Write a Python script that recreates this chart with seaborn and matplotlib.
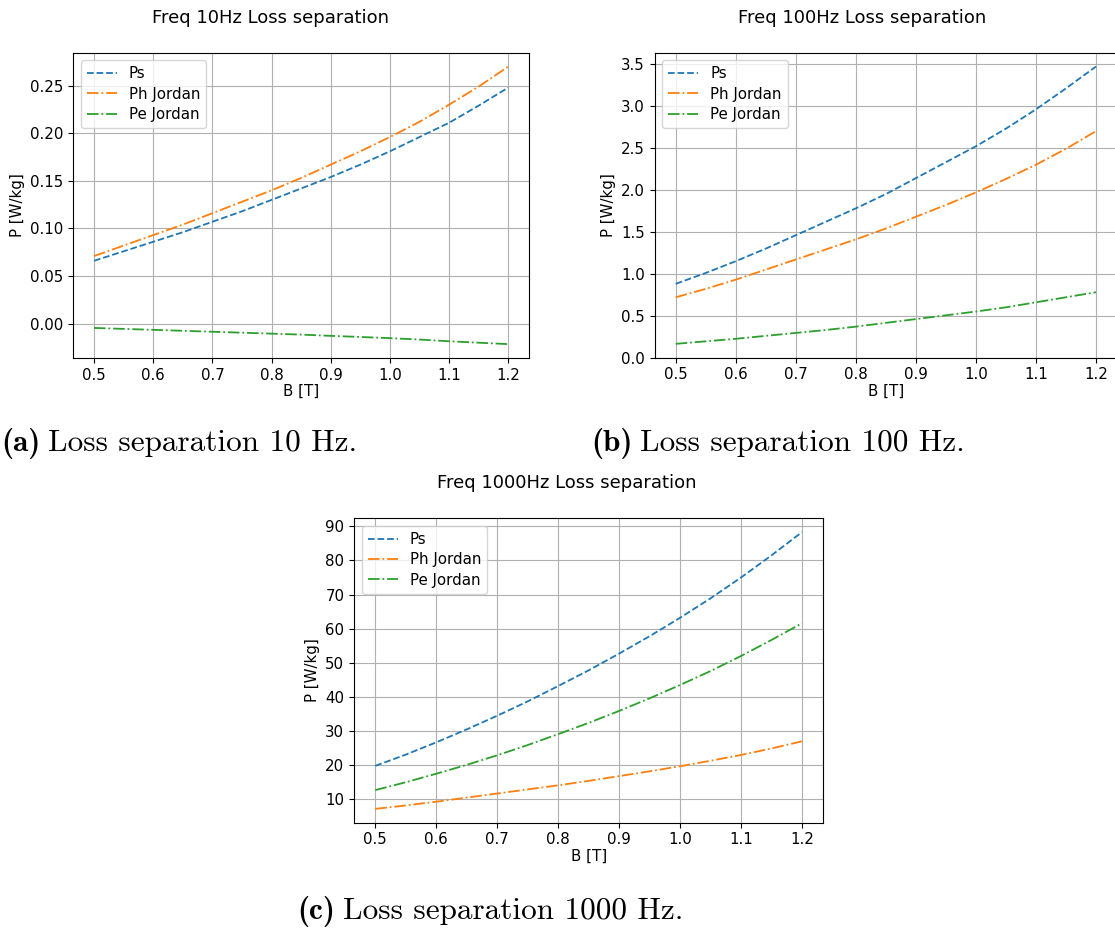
import matplotlib
matplotlib.use("Agg")
import matplotlib.pyplot as plt
import seaborn as sns
import pandas as pd

# Flux density sweep [T]
B = [0.50, 0.55, 0.60, 0.65, 0.70, 0.75, 0.80, 0.85, 0.90, 0.95, 1.00, 1.05, 1.10, 1.15, 1.20]

# 10 Hz losses [W/kg]
ps_10 = [0.066, 0.076, 0.086, 0.096, 0.107, 0.118, 0.130, 0.142, 0.154, 0.167, 0.181, 0.196, 0.211, 0.229, 0.248]
ph_10 = [0.071, 0.082, 0.093, 0.104, 0.116, 0.128, 0.140, 0.153, 0.167, 0.181, 0.196, 0.212, 0.230, 0.249, 0.270]
pe_10 = [-0.0045, -0.0055, -0.0065, -0.0075, -0.0085, -0.0095, -0.0105, -0.0115, -0.0128, -0.0140,
         -0.0152, -0.0167, -0.0185, -0.0200, -0.0215]

# 100 Hz losses [W/kg]
ps_100 = [0.88, 1.01, 1.15, 1.30, 1.46, 1.62, 1.78, 1.95, 2.14, 2.33, 2.52, 2.73, 2.96, 3.21, 3.47]
ph_100 = [0.72, 0.82, 0.93, 1.05, 1.17, 1.29, 1.41, 1.54, 1.68, 1.82, 1.97, 2.13, 2.30, 2.49, 2.70]
pe_100 = [0.165, 0.195, 0.225, 0.26, 0.295, 0.33, 0.37, 0.415, 0.46, 0.505, 0.55, 0.60, 0.66, 0.72, 0.78]

# 1000 Hz losses [W/kg]
ps_1000 = [19.8, 23.1, 26.7, 30.5, 34.5, 38.7, 43.2, 47.8, 52.7, 57.8, 63.2, 68.9, 75.0, 81.5, 88.3]
ph_1000 = [7.2, 8.2, 9.3, 10.5, 11.7, 12.9, 14.1, 15.4, 16.8, 18.2, 19.7, 21.3, 23.0, 24.9, 27.0]
pe_1000 = [12.7, 15.0, 17.5, 20.1, 22.9, 25.9, 29.1, 32.4, 35.9, 39.6, 43.5, 47.6, 52.0, 56.7, 61.6]

series_labels = ["Ps", "Ph Jordan", "Pe Jordan"]
titles = ["Freq 10Hz Loss separation", "Freq 100Hz Loss separation", "Freq 1000Hz Loss separation"]
caption_tags = ["(a)", "(b)", "(c)"]
caption_texts = ["Loss separation 10 Hz.", "Loss separation 100 Hz.", "Loss separation 1000 Hz."]

FS = 10.8
CAP_FS = 22.5

W, H = 1115, 930
fig = plt.figure(figsize=(W / 100, H / 100), dpi=100)
fig.patch.set_facecolor("white")
renderer = fig.canvas.get_renderer()

palette = sns.color_palette("tab10")
styles = ["--", "-.", "-."]

# axes boxes in pixels: left, top, right, bottom
boxes = [(73.3, 52.7, 529.0, 358.0),
         (654.7, 52.7, 1117.0, 357.7),
         (354.0, 518.3, 823.3, 822.7)]
title_pos = [(271, 18), (862, 18), (567, 483)]
caption_pos = [(1, 443), (591, 443), (297, 911)]

data = [(ps_10, ph_10, pe_10), (ps_100, ph_100, pe_100), (ps_1000, ph_1000, pe_1000)]

for (l, t, r, b), series, title, (tx, ty), tag, cap, (cx, cy) in zip(
        boxes, data, titles, title_pos, caption_tags, caption_texts, caption_pos):
    ax = fig.add_axes([l / W, 1 - b / H, (r - l) / W, (b - t) / H])
    df = pd.DataFrame({"B": B, **dict(zip(series_labels, series))})
    for i, name in enumerate(series_labels):
        sns.lineplot(data=df, x="B", y=name, ax=ax, color=palette[i],
                     linestyle=styles[i], linewidth=1.3, label=name)
    ax.grid(True, color="#b0b0b0", linewidth=0.8)
    ax.set_axisbelow(True)
    ax.set_xticks([0.5, 0.6, 0.7, 0.8, 0.9, 1.0, 1.1, 1.2])
    ax.tick_params(labelsize=FS)
    ax.set_xlabel("B [T]", fontsize=FS, labelpad=1)
    ax.set_ylabel("P [W/kg]", fontsize=FS)
    ax.legend(loc="upper left", fontsize=FS, handlelength=2.0, labelspacing=0.36)
    fig.text(tx / W, 1 - ty / H, title, ha="center", va="center", fontsize=13)

    # caption: bold tag followed by roman text
    t_tag = fig.text(cx / W, 1 - cy / H, tag, ha="left", va="center",
                     fontsize=CAP_FS, family="cmb10")
    bb = t_tag.get_window_extent(renderer=renderer)
    fig.text((bb.x1 + 8) / W, 1 - cy / H, cap, ha="left", va="center",
             fontsize=CAP_FS, family="cmr10")

fig.savefig("out.png", dpi=100, facecolor="white")
